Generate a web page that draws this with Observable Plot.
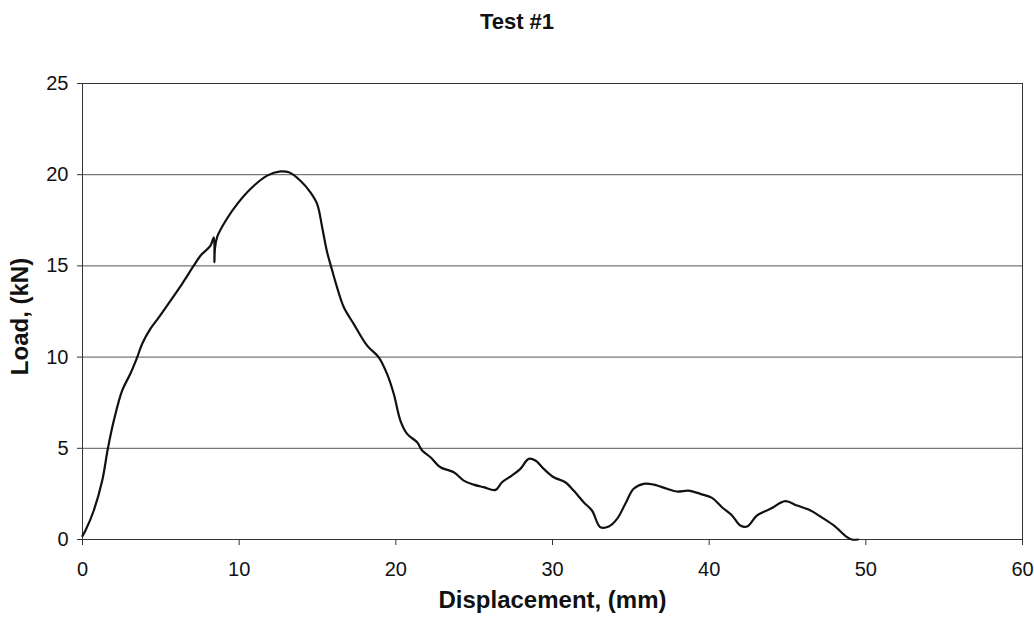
<!DOCTYPE html>
<html>
<head>
<meta charset="utf-8">
<script src="https://cdn.jsdelivr.net/npm/d3@7"></script>
<script src="https://cdn.jsdelivr.net/npm/@observablehq/plot@0.6"></script>
<style>
  html, body { margin: 0; padding: 0; background: #fff; }
  #title { width: 1034px; height: 44px; line-height: 44px; text-align: center;
    font-family: "Liberation Sans", Arial, sans-serif; font-weight: bold; font-size: 22px; color: #111; }
  svg { display: block; }
  svg g[aria-label$="tick label"], svg g[aria-label$="tick label"] text { font-size: 20px !important; }
</style>
</head>
<body>
<div id="title">Test #1</div>
<div id="chart"></div>
<script>
const displacement = [0, 0.19, 0.72, 1.26, 1.62, 2.0, 2.53, 3.06, 3.49, 3.81, 4.34, 4.87, 5.62, 6.36, 7.10, 7.53, 8.17, 8.38, 8.42, 8.45, 8.6, 9.23, 9.87, 10.72, 11.79, 12.64, 13.17, 13.91, 14.55, 14.98, 15.30, 15.6, 15.94, 16.25, 16.68, 17.31, 18.17, 18.91, 19.44, 19.87, 20.29, 20.72, 21.36, 21.68, 22.21, 22.85, 23.7, 24.33, 24.97, 25.61, 26.36, 26.78, 27.42, 27.95, 28.48, 28.91, 29.44, 30.08, 30.82, 31.35, 31.99, 32.52, 33.06, 33.59, 34.12, 34.65, 35.18, 35.82, 36.46, 37.31, 37.95, 38.69, 39.44, 40.18, 40.82, 41.46, 41.99, 42.42, 43.06, 43.91, 44.86, 45.61, 46.35, 47.1, 47.95, 48.8, 49.1, 49.5];
const load = [0.2, 0.49, 1.59, 3.23, 4.99, 6.52, 8.16, 9.10, 9.99, 10.73, 11.56, 12.18, 13.10, 14.02, 15.01, 15.56, 16.11, 16.56, 15.2, 15.9, 16.6, 17.6, 18.39, 19.22, 19.95, 20.18, 20.13, 19.67, 19.03, 18.39, 17.11, 15.8, 14.74, 13.82, 12.73, 11.82, 10.63, 9.99, 9.08, 7.98, 6.52, 5.79, 5.33, 4.88, 4.51, 3.96, 3.69, 3.23, 3.01, 2.87, 2.72, 3.14, 3.51, 3.87, 4.42, 4.33, 3.87, 3.41, 3.14, 2.68, 2.04, 1.59, 0.67, 0.71, 1.13, 1.96, 2.78, 3.05, 3.01, 2.78, 2.63, 2.68, 2.50, 2.28, 1.77, 1.32, 0.77, 0.71, 1.32, 1.68, 2.10, 1.86, 1.64, 1.26, 0.77, 0.13, 0, 0];
const xTicks = [0, 10, 20, 30, 40, 50, 60];
const yTicks = [0, 5, 10, 15, 20, 25];
const xLabel = "Displacement, (mm)";
const yLabel = "Load, (kN)";

const data = displacement.map((d, i) => ({x: d, y: load[i]}));
const font = "Liberation Sans, Arial, sans-serif";

const chart = Plot.plot({
  width: 1034,
  height: 574,
  marginTop: 39,
  marginBottom: 79,
  marginLeft: 82,
  marginRight: 12,
  style: {fontFamily: font, fontSize: "20px", color: "#111", background: "#fff"},
  x: {domain: [0, 60], ticks: xTicks, label: null},
  y: {domain: [0, 25], ticks: yTicks, label: null},
  marks: [
    Plot.ruleY(yTicks.filter(d => d > 0), {stroke: "#555", strokeWidth: 1}),
    Plot.frame({stroke: "#333", strokeWidth: 1}),
    Plot.axisX({ticks: xTicks, tickSize: 6, tickPadding: 16, label: null, stroke: "#333", fontSize: 20}),
    Plot.axisY({ticks: yTicks, tickSize: 5, tickPadding: 9, label: null, stroke: "#333", fontSize: 20}),
    Plot.line(data, {x: "x", y: "y", stroke: "#111", strokeWidth: 2.2, curve: "catmull-rom"}),
    Plot.text([xLabel], {text: d => d, frameAnchor: "bottom", dy: 68, fontWeight: "bold", fontSize: 24, fill: "#111"}),
    Plot.text([yLabel], {text: d => d, frameAnchor: "left", textAnchor: "middle", dx: -62, dy: 5, rotate: -90, fontWeight: "bold", fontSize: 24, fill: "#111"})
  ]
});
document.getElementById("chart").appendChild(chart);
</script>
</body>
</html>
